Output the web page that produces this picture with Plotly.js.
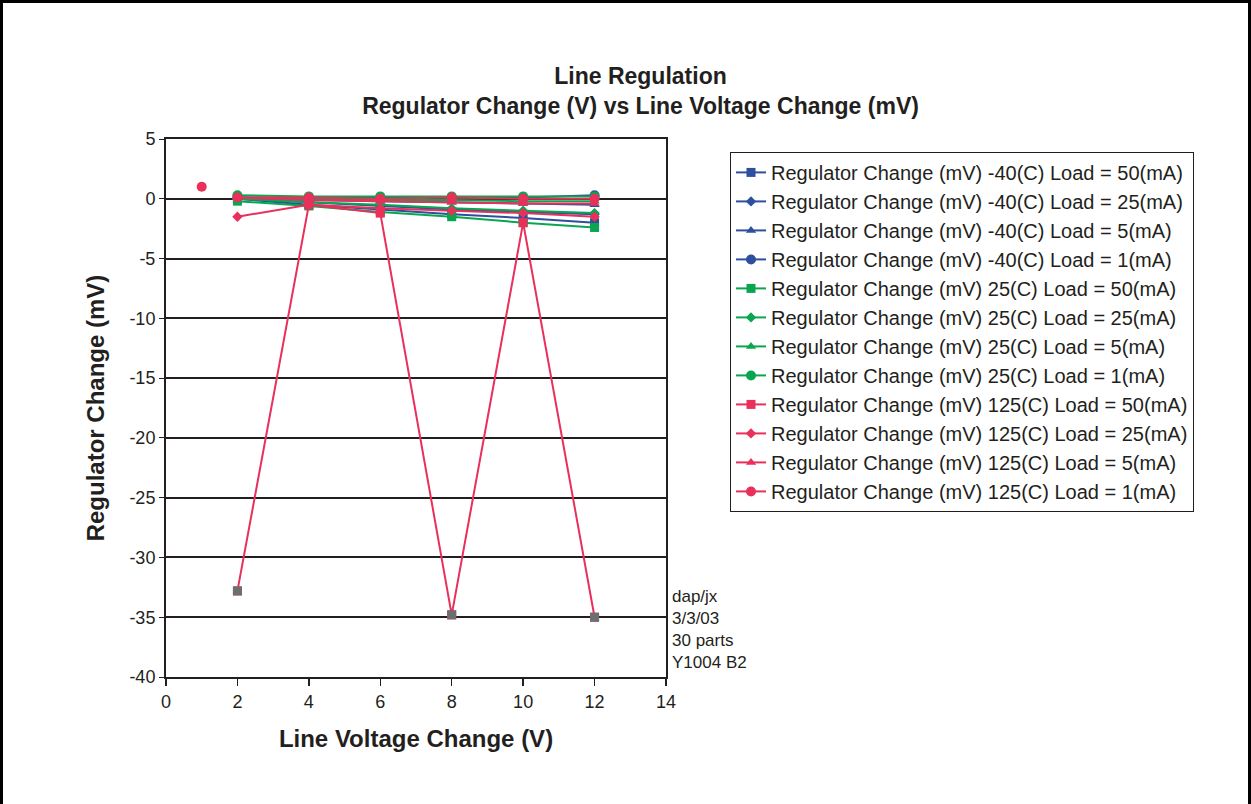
<!DOCTYPE html>
<html><head><meta charset="utf-8">
<script src="https://cdn.plot.ly/plotly-3.0.1.min.js"></script>
<style>
html,body{margin:0;padding:0;background:#fff;}
#wrap{position:relative;width:1251px;height:804px;overflow:hidden;}
#frame{position:absolute;left:0;top:0;width:1245px;height:820px;border:3px solid #000;pointer-events:none;z-index:5;}
#chart{position:absolute;left:0;top:0;width:1251px;height:804px;}
</style></head>
<body><div id="wrap"><div id="chart"></div><div id="frame"></div></div>
<script>
const xVals = [2, 4, 6, 8, 10, 12];
const names = [
  "Regulator Change (mV) -40(C) Load = 50(mA)",
  "Regulator Change (mV) -40(C) Load = 25(mA)",
  "Regulator Change (mV) -40(C) Load = 5(mA)",
  "Regulator Change (mV) -40(C) Load = 1(mA)",
  "Regulator Change (mV) 25(C) Load = 50(mA)",
  "Regulator Change (mV) 25(C) Load = 25(mA)",
  "Regulator Change (mV) 25(C) Load = 5(mA)",
  "Regulator Change (mV) 25(C) Load = 1(mA)",
  "Regulator Change (mV) 125(C) Load = 50(mA)",
  "Regulator Change (mV) 125(C) Load = 25(mA)",
  "Regulator Change (mV) 125(C) Load = 5(mA)",
  "Regulator Change (mV) 125(C) Load = 1(mA)"
];
const m40_50 = [0.0, -0.5, -0.9, -1.3, -1.6, -2.0];
const m40_25 = [0.0, -0.3, -0.6, -0.9, -1.1, -1.3];
const m40_5  = [0.1, -0.1, -0.2, -0.3, -0.4, -0.5];
const m40_1  = [0.1, 0.1, 0.1, 0.1, 0.1, 0.3];
const r25_50 = [-0.2, -0.6, -1.1, -1.5, -2.0, -2.4];
const r25_25 = [0.0, -0.3, -0.5, -0.8, -1.0, -1.2];
const r25_5  = [0.1, 0.0, -0.1, -0.1, -0.2, -0.2];
const r25_1  = [0.3, 0.2, 0.2, 0.2, 0.2, 0.2];
const h125_50 = [-32.8, -0.5, -1.2, -34.8, -2.0, -35.0];
const h125_25 = [-1.5, -0.5, -0.8, -1.0, -1.2, -1.5];
const h125_5  = [0.1, -0.1, -0.2, -0.3, -0.4, -0.4];
const h125_1  = [0.1, 0.1, 0.0, 0.1, 0.0, 0.0];
const extraX = [1];
const extraY = [1.0];
const yTicks = [5, 0, -5, -10, -15, -20, -25, -30, -35, -40];
const xTicks = [0, 2, 4, 6, 8, 10, 12, 14];
const notes = ["dap/jx", "3/3/03", "30 parts", "Y1004 B2"];

const series = [m40_50, m40_25, m40_5, m40_1, r25_50, r25_25, r25_5, r25_1, h125_50, h125_25, h125_5, h125_1];
const blue = "#2d4f9e", green = "#0aa64f", red = "#e8305a", gray = "#6d6e70";
const colors = [blue, blue, blue, blue, green, green, green, green, red, red, red, red];
const symbols = ["square", "diamond", "triangle-up", "circle"];
const sizes = [9, 8, 9, 10];

const traces = series.map((ys, i) => ({
  x: xVals, y: ys, name: names[i], type: "scatter", mode: "lines+markers",
  line: {color: colors[i], width: 2},
  marker: {symbol: symbols[i % 4], size: sizes[i % 4], color: colors[i], line: {width: 0}}
}));
// outlying points of the 125(C) 50(mA) series are drawn with grey markers
const outX = [], outY = [];
h125_50.forEach((v, k) => { if (v < -20) { outX.push(xVals[k]); outY.push(v); } });
traces.push({x: outX, y: outY, type: "scatter", mode: "markers", showlegend: false,
  marker: {symbol: "square", size: 9, color: gray}});
traces.push({x: extraX, y: extraY, type: "scatter", mode: "markers", showlegend: false,
  marker: {symbol: "circle", size: 10, color: red}});

const font = "Liberation Sans, Arial, sans-serif";
const ink = "#231f20";
const layout = {
  width: 1251, height: 804,
  margin: {l: 166, r: 585, t: 139, b: 127},
  paper_bgcolor: "#fff", plot_bgcolor: "#fff",
  font: {family: font, color: ink},
  title: {text: "<b>Line Regulation<br>Regulator Change (V) vs Line Voltage Change (mV)</b>",
    font: {size: 23, family: font, color: ink}, xref: "container", x: 0.512, xanchor: "center",
    yref: "container", y: 0.896, yanchor: "top"},
  xaxis: {range: [0, 14], tickvals: xTicks, ticktext: xTicks.map(String), showgrid: false, zeroline: false,
    showline: true, linecolor: ink, linewidth: 2, mirror: true,
    ticks: "outside", ticklen: 7, tickcolor: ink, tickwidth: 1.5,
    tickfont: {size: 18, family: font}, fixedrange: true,
    title: {text: "<b>Line Voltage Change (V)</b>", font: {size: 24, family: font}, standoff: 20}},
  yaxis: {range: [-40, 5], tickvals: yTicks, ticktext: yTicks.map(String), showgrid: true, gridcolor: ink, gridwidth: 2,
    zeroline: false, showline: true, linecolor: ink, linewidth: 2, mirror: true,
    ticks: "outside", ticklen: 5, tickcolor: ink,
    tickfont: {size: 18, family: font},
    title: {text: "<b>Regulator Change (mV)</b>", font: {size: 24, family: font}, standoff: 18}},
  legend: {x: 1.128, xanchor: "left", y: 0.976, yanchor: "top",
    bordercolor: ink, borderwidth: 1, bgcolor: "#fff", itemwidth: 30,
    font: {size: 20, family: font, color: ink}, tracegroupgap: 0},
  annotations: [{xref: "paper", yref: "paper", x: 1.008, xanchor: "left", y: (677 - 585) / 538, yanchor: "top",
    text: notes.join("<br>"), showarrow: false, align: "left",
    font: {size: 17, family: font, color: ink}}],
  showlegend: true
};
Plotly.newPlot("chart", traces, layout, {displayModeBar: false, staticPlot: true});
</script></body></html>
